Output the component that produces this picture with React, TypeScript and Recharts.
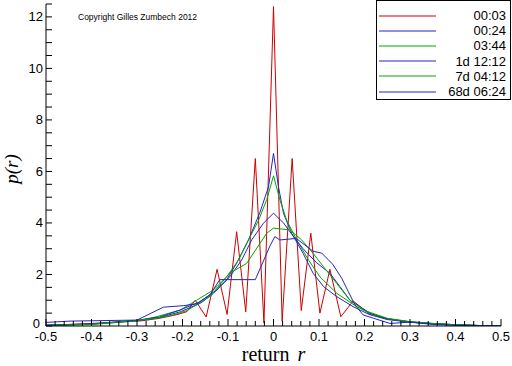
import { LineChart, Line, XAxis, YAxis, Legend } from 'recharts';

// return r (x) and density p(r) (y) for each time horizon
const R_0003 = [-0.5, -0.4, -0.33, -0.29, -0.25, -0.21, -0.19, -0.172, -0.148, -0.124, -0.102, -0.081, -0.061, -0.04, -0.021, 0, 0.019, 0.041, 0.061, 0.082, 0.102, 0.124, 0.148, 0.175, 0.212, 0.25, 0.3, 0.35, 0.4, 0.45, 0.5];
const P_0003 = [0.02, 0.1, 0.17, 0.2, 0.3, 0.45, 0.56, 1.0, 0.35, 2.2, 0.45, 3.66, 0.55, 6.5, 0.12, 12.4, 0.18, 6.5, 0.6, 3.6, 0.5, 2.2, 0.36, 0.97, 0.45, 0.28, 0.15, 0.08, 0.04, 0.02, 0.01];

const R_0024 = [-0.5, -0.4, -0.3, -0.25, -0.205, -0.16, -0.132, -0.103, -0.081, -0.055, -0.03, -0.011, 0, 0.011, 0.022, 0.04, 0.065, 0.087, 0.11, 0.139, 0.175, 0.21, 0.25, 0.3, 0.35, 0.4, 0.45, 0.5];
const P_0024 = [0.03, 0.07, 0.2, 0.33, 0.55, 0.89, 1.27, 1.79, 2.44, 3.34, 4.4, 5.4, 6.7, 5.4, 4.37, 3.6, 2.82, 2.05, 1.53, 1.14, 0.75, 0.45, 0.25, 0.15, 0.09, 0.04, 0.02, 0.01];

const R_0344 = [-0.5, -0.4, -0.3, -0.257, -0.205, -0.169, -0.132, -0.103, -0.077, -0.055, -0.033, -0.015, 0, 0.014, 0.029, 0.051, 0.077, 0.102, 0.139, 0.183, 0.22, 0.26, 0.3, 0.35, 0.4, 0.45, 0.5];
const P_0344 = [0.01, 0.06, 0.2, 0.36, 0.62, 1.0, 1.4, 1.91, 2.56, 3.34, 4.1, 4.9, 5.83, 4.9, 4.1, 3.34, 2.56, 1.91, 1.27, 0.75, 0.42, 0.25, 0.16, 0.09, 0.05, 0.02, 0.01];

const R_1D = [-0.5, -0.4, -0.3, -0.25, -0.205, -0.162, -0.125, -0.096, -0.07, -0.048, -0.022, 0, 0.022, 0.044, 0.065, 0.095, 0.124, 0.146, 0.168, 0.212, 0.25, 0.3, 0.35, 0.4, 0.45, 0.5];
const P_1D = [0.04, 0.08, 0.22, 0.35, 0.62, 0.94, 1.4, 1.91, 2.56, 3.34, 3.99, 4.38, 4.0, 3.47, 3.0, 2.45, 2.05, 1.53, 1.0, 0.5, 0.28, 0.16, 0.1, 0.05, 0.02, 0.01];

const R_7D = [-0.5, -0.4, -0.3, -0.257, -0.22, -0.19, -0.14, -0.096, -0.059, -0.03, -0.015, 0, 0.036, 0.062, 0.087, 0.11, 0.139, 0.168, 0.2, 0.25, 0.3, 0.35, 0.4, 0.45, 0.5];
const P_7D = [0.02, 0.07, 0.22, 0.3, 0.43, 0.6, 1.14, 2.05, 2.43, 3.2, 3.6, 3.8, 3.73, 3.34, 2.82, 2.3, 1.65, 1.0, 0.6, 0.3, 0.17, 0.1, 0.05, 0.02, 0.01];

const R_68D = [-0.5, -0.447, -0.3, -0.27, -0.242, -0.198, -0.169, -0.14, -0.118, -0.04, -0.008, 0.003, 0.014, 0.05, 0.087, 0.106, 0.13, 0.15, 0.164, 0.179, 0.197, 0.22, 0.256, 0.3, 0.35, 0.4, 0.45, 0.5];
const P_68D = [0.14, 0.19, 0.23, 0.49, 0.73, 0.79, 0.86, 1.2, 1.8, 1.8, 3.1, 3.47, 3.34, 3.4, 2.9, 2.83, 2.4, 1.85, 1.35, 0.82, 0.43, 0.3, 0.1, 0.15, 0.06, 0.03, 0.01, 0.0];

const X_LABELS = [-0.5, -0.4, -0.3, -0.2, -0.1, 0, 0.1, 0.2, 0.3, 0.4, 0.5];
const Y_LABELS = [0, 2, 4, 6, 8, 10, 12];

const RED = '#cc0000';
const BLUE = '#2424c4';
const GREEN = '#00a800';

const SERIES = [
  { name: '00:03', color: RED, r: R_0003, p: P_0003 },
  { name: '00:24', color: BLUE, r: R_0024, p: P_0024 },
  { name: '03:44', color: GREEN, r: R_0344, p: P_0344 },
  { name: '1d 12:12', color: BLUE, r: R_1D, p: P_1D },
  { name: '7d 04:12', color: GREEN, r: R_7D, p: P_7D },
  { name: '68d 06:24', color: BLUE, r: R_68D, p: P_68D },
];

// minor ticks every 0.02 on x, every 0.5 on y
const X_TICKS = Array.from({ length: 51 }, (_, i) => Math.round((-0.5 + i * 0.02) * 100) / 100);
const Y_TICKS = Array.from({ length: 26 }, (_, i) => i * 0.5);

const SANS = '"Liberation Sans", Arial, sans-serif';
const SERIF = '"Liberation Serif", "Times New Roman", serif';

const isMajor = (list: number[], v: number) => list.some((t) => Math.abs(t - v) < 1e-6);

const fmtX = (v: number) => (Math.abs(v) < 1e-9 ? '0' : v.toFixed(1));

const XTick = ({ x, y, payload }: any) => {
  const major = isMajor(X_LABELS, payload.value);
  return (
    <g>
      <line x1={x} x2={x} y1={y} y2={y - (major ? 7 : 5)} stroke="#000" />
      {major && (
        <text x={x} y={y + 15} textAnchor="middle" fontSize={13} fontFamily={SANS} fill="#000">
          {fmtX(payload.value)}
        </text>
      )}
    </g>
  );
};

const YTick = ({ x, y, payload }: any) => {
  const major = isMajor(Y_LABELS, payload.value);
  // the zero label sits a little up-left so it clears the -0.5 below it
  const isZero = payload.value === 0;
  return (
    <g>
      <line x1={x} x2={x + 6} y1={y} y2={y} stroke="#000" />
      {major && (
        <text
          x={x - (isZero ? 6 : 3)}
          y={y + (isZero ? 1.5 : 4.5)}
          textAnchor="end"
          fontSize={13}
          fontFamily={SANS}
          fill="#000"
        >
          {payload.value}
        </text>
      )}
    </g>
  );
};

const XTitle = ({ viewBox }: any) => (
  <text x={viewBox.x + viewBox.width / 2} y={viewBox.y + 35} textAnchor="middle" fontSize={20} fontFamily={SERIF} fill="#000">
    return<tspan dx={8} fontStyle="italic">r</tspan>
  </text>
);

const YTitle = ({ viewBox }: any) => {
  const cx = viewBox.x + viewBox.width - 28;
  const cy = viewBox.y + viewBox.height / 2 + 4;
  return (
    <text x={cx} y={cy} transform={`rotate(-90 ${cx} ${cy})`} textAnchor="middle" fontSize={19} fontFamily={SERIF} fontStyle="italic" fill="#000">
      p(r)
    </text>
  );
};

// legend drawn from SERIES so the order stays as in the original
const LegendBox = () => (
  <div
    style={{
      width: 135,
      height: 100,
      boxSizing: 'border-box',
      border: '1px solid #000',
      background: '#fff',
      paddingTop: 7,
      fontFamily: SANS,
      fontSize: 13,
    }}
  >
    {SERIES.map((s) => (
      <div key={s.name} style={{ display: 'flex', alignItems: 'center', height: 15.2 }}>
        <svg width={60} height={4} style={{ display: 'block' }}>
          <line x1={2} x2={59} y1={2} y2={2} stroke={s.color} />
        </svg>
        <span style={{ flex: 1, textAlign: 'right', paddingRight: 4, lineHeight: '15px' }}>{s.name}</span>
      </div>
    ))}
  </div>
);

export default function App() {
  return (
    <div style={{ position: 'absolute', left: 0, top: 0, width: 512, height: 366, background: '#fff' }}>
      <LineChart width={512} height={366} margin={{ top: 4, right: 11, bottom: 39, left: 45 }}>
        <XAxis
          xAxisId="r"
          dataKey="r"
          type="number"
          domain={[-0.5, 0.5]}
          ticks={X_TICKS}
          interval={0}
          height={1}
          tickSize={0}
          tickMargin={0}
          tickLine={false}
          tick={<XTick />}
          axisLine={{ stroke: '#000' }}
          allowDataOverflow
          label={<XTitle />}
        />
        <YAxis
          yAxisId="p"
          type="number"
          domain={[0, 12.5]}
          ticks={Y_TICKS}
          interval={0}
          width={1}
          tickSize={0}
          tickMargin={0}
          tickLine={false}
          tick={<YTick />}
          axisLine={{ stroke: '#000' }}
          allowDataOverflow
          label={<YTitle />}
        />
        <Legend
          layout="vertical"
          align="center"
          verticalAlign="middle"
          content={<LegendBox />}
          wrapperStyle={{ position: 'absolute', left: 376, top: 0, width: 135, height: 100 }}
        />
        {SERIES.map((s) => (
          <Line
            key={s.name}
            xAxisId="r"
            yAxisId="p"
            name={s.name}
            data={s.r.map((r, i) => ({ r, p: s.p[i] }))}
            dataKey="p"
            type="linear"
            stroke={s.color}
            strokeWidth={1}
            dot={false}
            activeDot={false}
            isAnimationActive={false}
          />
        ))}
      </LineChart>
      <div
        style={{
          position: 'absolute',
          left: 78,
          top: 12,
          fontFamily: SANS,
          fontSize: 8.5,
          lineHeight: '10px',
          whiteSpace: 'nowrap',
        }}
      >
        Copyright Gilles Zumbech 2012
      </div>
    </div>
  );
}
